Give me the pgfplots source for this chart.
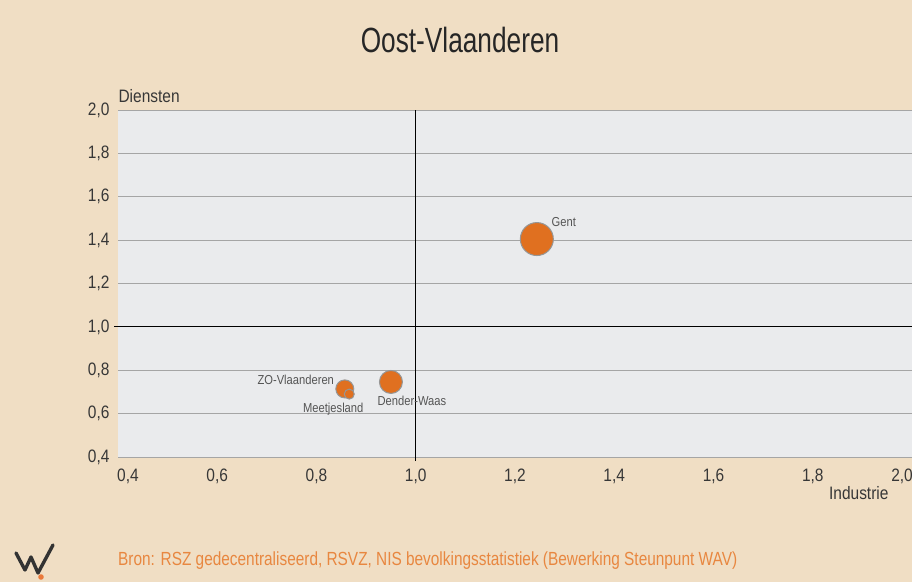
\documentclass[border=0pt]{standalone}
\usepackage{pgfplots}
\pgfplotsset{compat=1.18}
\usepackage{fontspec}
\setmainfont[FakeStretch=0.86]{Liberation Sans}
\newfontfamily\titlefont[FakeStretch=0.75]{Liberation Sans}
\newfontfamily\srcfont[FakeStretch=0.81]{Liberation Sans}
\definecolor{bgbeige}{RGB}{240,222,196}
\definecolor{plotgray}{RGB}{234,235,237}
\definecolor{gridgray}{RGB}{165,165,165}
\definecolor{bubble}{RGB}{224,112,32}
\definecolor{bubbleedge}{RGB}{150,150,150}
\definecolor{txt}{RGB}{55,55,55}
\definecolor{lbl}{RGB}{85,85,85}
\definecolor{srcorange}{RGB}{232,135,64}
\begin{document}
\begin{tikzpicture}[x=1pt,y=1pt]
\fill[bgbeige] (0,0) rectangle (912,582);
\useasboundingbox (0,0) rectangle (912,582);
\begin{axis}[
  at={(118pt,125pt)}, anchor=south west,
  scale only axis, width=794pt, height=347pt,
  xmin=0.4, xmax=2.0, ymin=0.4, ymax=2.0,
  xtick={0.4,0.6,0.8,1.0,1.2,1.4,1.6,1.8,2.0},
  xticklabels={{\hspace*{20pt}0,4},{0,6},{0,8},{1,0},{1,2},{1,4},{1,6},{1,8},{2,0\hspace*{20pt}}},
  ytick={0.4,0.6,0.8,1.0,1.2,1.4,1.6,1.8,2.0},
  /pgf/number format/.cd, fixed, fixed zerofill, precision=1, use comma, assume math mode=true,
  /pgfplots/.cd,
  tick pos=left,
  ticklabel style={font=\fontsize{18}{20}\selectfont, text=txt},
  xticklabel style={anchor=base, yshift=-24pt},
  yticklabel style={xshift=-5pt},
  major tick length=0pt,
  axis line style={draw=none},
  axis background/.style={fill=plotgray},
  ymajorgrids,
  grid style={gridgray, line width=0.9pt},
  extra x ticks={1.0}, extra x tick labels={},
  extra x tick style={grid=major, major grid style={black, line width=1pt}, major tick length=4pt, tick align=outside, tick style={black, line width=1pt}},
  extra y ticks={1.0}, extra y tick labels={},
  extra y tick style={grid=major, major grid style={black, line width=1pt}, major tick length=4pt, tick align=outside, tick style={black, line width=1pt}},
  xlabel={Industrie},
  xlabel style={at={(axis description cs:0.933,0)}, anchor=north, yshift=-26pt, font=\fontsize{18}{20}\selectfont, text=txt},
  ylabel={Diensten},
  ylabel style={rotate=-90, at={(axis description cs:0,1)}, anchor=base west, yshift=7pt, xshift=-3pt, font=\fontsize{18}{20}\selectfont, text=txt},
  clip=false,
]
\addplot[only marks, mark=*, mark size=16.5pt, mark options={fill=bubble, draw=bubbleedge, line width=1pt},
  nodes near coords={Gent},
  nodes near coords style={anchor=base west, xshift=11pt, yshift=13pt, font=\fontsize{13}{15}\selectfont, text=lbl}]
  coordinates {(1.244,1.405)};
\addplot[only marks, mark=*, mark size=11.5pt, mark options={fill=bubble, draw=bubbleedge, line width=1pt},
  nodes near coords={Dender-Waas},
  nodes near coords style={anchor=base, xshift=21pt, yshift=-24pt, font=\fontsize{13}{15}\selectfont, text=lbl}]
  coordinates {(0.950,0.746)};
\addplot[only marks, mark=*, mark size=9pt, mark options={fill=bubble, draw=bubbleedge, line width=1pt},
  nodes near coords={ZO-Vlaanderen},
  nodes near coords style={anchor=base east, xshift=-7pt, yshift=4pt, font=\fontsize{13}{15}\selectfont, text=lbl}]
  coordinates {(0.857,0.714)};
\addplot[only marks, mark=*, mark size=5pt, mark options={fill=bubble, draw=bubbleedge, line width=1pt},
  nodes near coords={Meetjesland},
  nodes near coords style={anchor=base, xshift=-16pt, yshift=-18pt, font=\fontsize{13}{15}\selectfont, text=lbl}]
  coordinates {(0.866,0.690)};
\end{axis}
\node[font=\titlefont\fontsize{35}{40}\selectfont, text=black!85] at (460,542) {Oost-Vlaanderen};
\node[anchor=base west, font=\srcfont\fontsize{19}{22}\selectfont, text=srcorange, inner sep=0pt] at (118,17) {Bron: RSZ gedecentraliseerd, RSVZ, NIS bevolkingsstatistiek (Bewerking Steunpunt WAV)};
\draw[black!80, line width=3.4pt, line cap=round, line join=round] (16,29) -- (25,12) -- (31,25) -- (38,9) -- (53,37);
\fill[srcorange!90!red] (41,5) circle (2.8);
\end{tikzpicture}
\end{document}
